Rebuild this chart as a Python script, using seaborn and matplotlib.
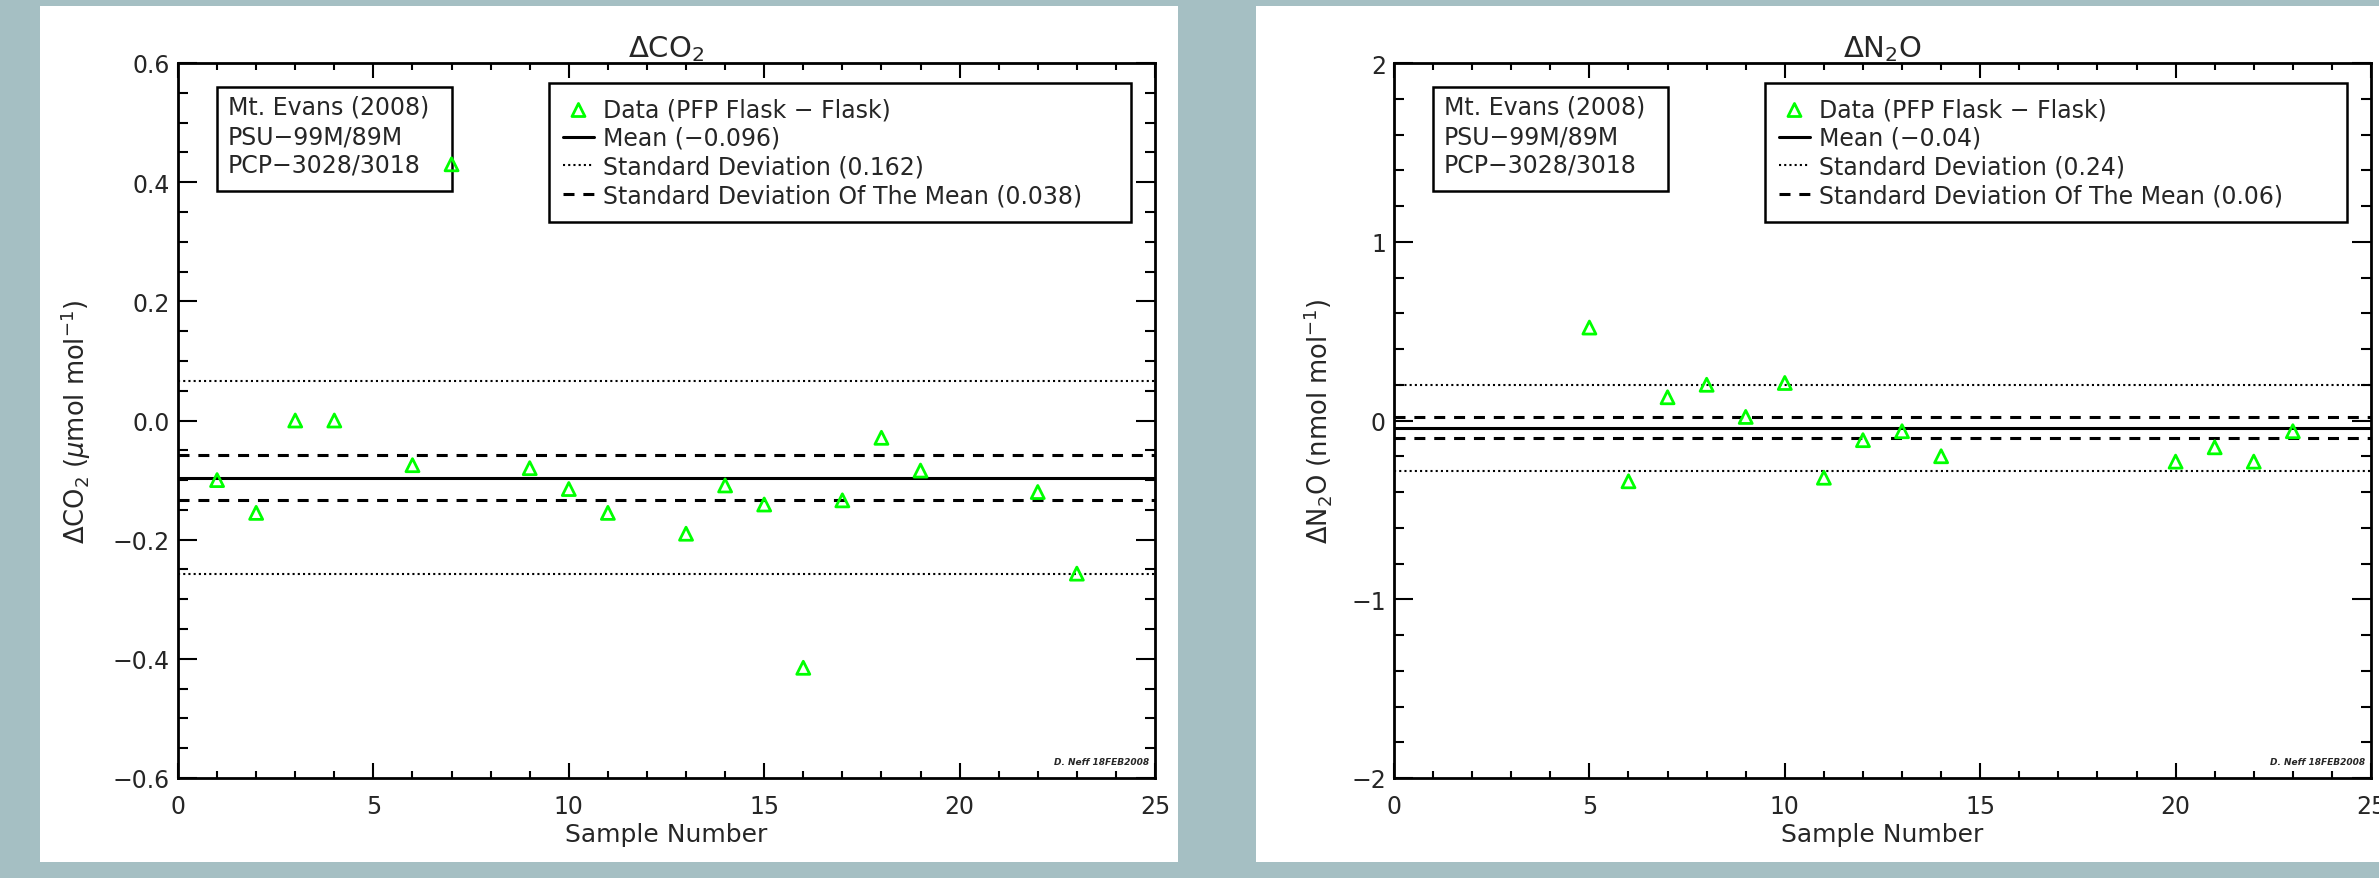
import matplotlib
matplotlib.use("Agg")
import matplotlib.pyplot as plt
import seaborn as sns
from matplotlib.patches import Rectangle
from matplotlib.ticker import MultipleLocator

# ---------------- data ----------------
sample_co2 = [1, 2, 3, 4, 6, 7, 9, 10, 11, 13, 14, 15, 16, 17, 18, 19, 22, 23]
delta_co2 = [-0.100, -0.155, 0.000, 0.000, -0.075, 0.430, -0.080, -0.115, -0.155,
             -0.190, -0.109, -0.141, -0.415, -0.134, -0.029, -0.084, -0.120, -0.257]
mean_co2, sd_co2, sdm_co2 = -0.096, 0.162, 0.038

sample_n2o = [5, 6, 7, 8, 9, 10, 11, 12, 13, 14, 20, 21, 22, 23]
delta_n2o = [0.52, -0.34, 0.13, 0.20, 0.02, 0.21, -0.32, -0.11, -0.06, -0.20,
             -0.23, -0.15, -0.23, -0.06]
mean_n2o, sd_n2o, sdm_n2o = -0.04, 0.24, 0.06

site_lines = ["Mt. Evans (2008)", "PSU\u221299M/89M", "PCP\u22123028/3018"]
title_co2 = r"$\Delta$CO$_2$"
title_n2o = r"$\Delta$N$_2$O"
ylabel_co2 = r"$\Delta$CO$_2$ ($\mu$mol mol$^{-1}$)"
ylabel_n2o = r"$\Delta$N$_2$O (nmol mol$^{-1}$)"
xlabel = "Sample Number"
signature = "D. Neff 18FEB2008"

# ---------------- style ----------------
sns.set_style("ticks")
plt.rcParams["font.family"] = ["DejaVu Sans"]
plt.rcParams["axes.unicode_minus"] = True

W, H = 2379, 879
fig = plt.figure(figsize=(W / 100, H / 100), dpi=100, facecolor="#a5bfc3")

# white panels
for (px0, px1) in [(40, 1178), (1256, 2379)]:
    fig.add_artist(Rectangle((px0 / W, (H - 863) / H), (px1 - px0) / W, 856 / H,
                             transform=fig.transFigure, facecolor="white",
                             edgecolor="none", zorder=0))


def fmt(v):
    return str(v).replace("-", "\u2212")


def panel(rect, xs, ys, mean, sd, sdm, ylim, ymaj, ymin, title, ylabel, ylab_x):
    ax = fig.add_axes(rect)
    ax.set_facecolor("white")
    sns.scatterplot(x=xs, y=ys, ax=ax, marker="^", s=88, color="#00ff00",
                    facecolor="none", edgecolor="#00ff00", linewidth=2.0,
                    zorder=5, legend=False)
    pts = ax.collections[-1]
    lm = ax.axhline(mean, color="black", lw=2.2, zorder=3)
    ls = [ax.axhline(mean + k * sd, color="black", lw=1.5, dashes=(1, 1.5), zorder=3)
          for k in (1, -1)]
    ld = [ax.axhline(mean + k * sdm, color="black", lw=2.2, dashes=(3.6, 2.9), zorder=3)
          for k in (1, -1)]

    ax.set_xlim(0, 25)
    ax.set_ylim(*ylim)
    ax.xaxis.set_major_locator(MultipleLocator(5))
    ax.xaxis.set_minor_locator(MultipleLocator(1))
    ax.yaxis.set_major_locator(MultipleLocator(ymaj))
    ax.yaxis.set_minor_locator(MultipleLocator(ymin))
    ax.tick_params(axis="both", which="both", direction="in", top=True, right=True,
                   width=1.5, color="black")
    ax.tick_params(axis="x", which="major", length=10.8, pad=11.5, labelsize=17)
    ax.tick_params(axis="x", which="minor", length=5)
    ax.tick_params(axis="y", which="major", length=13.7, pad=5.8, labelsize=17)
    ax.tick_params(axis="y", which="minor", length=7.2)
    for sp in ax.spines.values():
        sp.set_visible(True)
        sp.set_linewidth(2)
        sp.set_color("black")

    ax.set_title(title, fontsize=21, pad=4)
    ax.set_xlabel(xlabel, fontsize=18)
    ax.xaxis.set_label_coords(0.5, -0.061)
    ax.set_ylabel(ylabel, fontsize=18.5)
    ax.yaxis.set_label_coords(ylab_x, 0.5)

    # site info box
    ax.add_patch(Rectangle((0.0399, 0.821), 0.2405, 0.1455, transform=ax.transAxes,
                           facecolor="white", edgecolor="black", lw=1.8, zorder=4))
    for txt, yb in zip(site_lines, (0.9287, 0.8881, 0.8476)):
        ax.text(0.0512, yb, txt, transform=ax.transAxes, fontsize=17,
                va="baseline", ha="left", zorder=4.5)

    leg = ax.legend(handles=[pts, lm, ls[0], ld[0]],
                    labels=["Data (PFP Flask \u2212 Flask)",
                            f"Mean ({fmt(mean)})",
                            f"Standard Deviation ({fmt(sd)})",
                            f"Standard Deviation Of The Mean ({fmt(sdm)})"],
                    loc="upper left", bbox_to_anchor=(0.3797, 0.5, 0.5957, 0.472),
                    mode="expand", borderaxespad=0, fontsize=17, fancybox=False,
                    framealpha=1, edgecolor="black", handlelength=1.3,
                    handletextpad=0.4, borderpad=0.6, labelspacing=0.2,
                    scatterpoints=1)
    leg.get_frame().set_linewidth(1.8)
    leg.set_zorder(6)

    ax.text(0.994, 0.02, signature, transform=ax.transAxes, ha="right",
            va="baseline", fontsize=6.5, fontweight="bold", style="italic")
    return ax


bottom = (H - 779) / H
height = 715 / H
panel([178 / W, bottom, 977 / W, height], sample_co2, delta_co2,
      mean_co2, sd_co2, sdm_co2, (-0.6, 0.6), 0.2, 0.05,
      title_co2, ylabel_co2, -0.087)
panel([1394 / W, bottom, 977 / W, height], sample_n2o, delta_n2o,
      mean_n2o, sd_n2o, sdm_n2o, (-2, 2), 1, 0.2,
      title_n2o, ylabel_n2o, -0.0614)

fig.savefig("out.png", dpi=100, facecolor=fig.get_facecolor())
